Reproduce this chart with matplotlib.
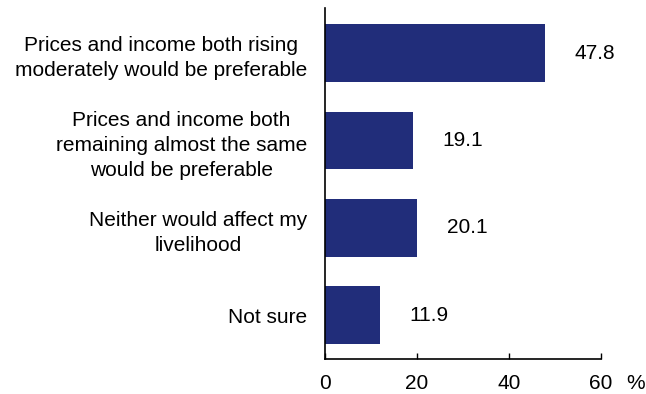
import matplotlib.pyplot as plt

plt.rcParams['font.family'] = ['Liberation Sans', 'DejaVu Sans']

categories = [
    "Prices and income both rising\nmoderately would be preferable",
    "Prices and income both\nremaining almost the same\nwould be preferable",
    "Neither would affect my\nlivelihood",
    "Not sure",
]
values = [47.8, 19.1, 20.1, 11.9]
xticks = [0, 20, 40, 60]

fs = 15

fig = plt.figure(figsize=(6.46, 3.94), dpi=100)
ax = fig.add_axes([0.503, 0.089, 0.427, 0.891])

ypos = list(range(len(values)))
ax.barh(ypos, values, height=0.66, color='#212D7A')

for y, v in zip(ypos, values):
    ax.text(v + 10.8, y, f"{v:.1f}", ha='center', va='center', fontsize=fs)

ax.set_xlim(0, 60)
ax.set_ylim(3.5, -0.52)
ax.set_xticks(xticks)
ax.set_xticklabels([str(t) for t in xticks], fontsize=fs)
ax.tick_params(axis='x', direction='in', length=4, width=1, pad=11)
ax.set_yticks(ypos)
ax.set_yticklabels(categories, fontsize=fs)
for lab in ax.get_yticklabels():
    lab.set_multialignment('center')
    lab.set_linespacing(1.4)
ax.tick_params(axis='y', length=0, pad=13)

ax.spines['top'].set_visible(False)
ax.spines['right'].set_visible(False)
ax.spines['left'].set_linewidth(1.2)
ax.spines['bottom'].set_linewidth(1.2)

ax.annotate("%", xy=(1, 0), xycoords='axes fraction', xytext=(18, -17.5),
            textcoords='offset points', ha='left', va='center', fontsize=fs)

fig.savefig("out.png", dpi=100)
